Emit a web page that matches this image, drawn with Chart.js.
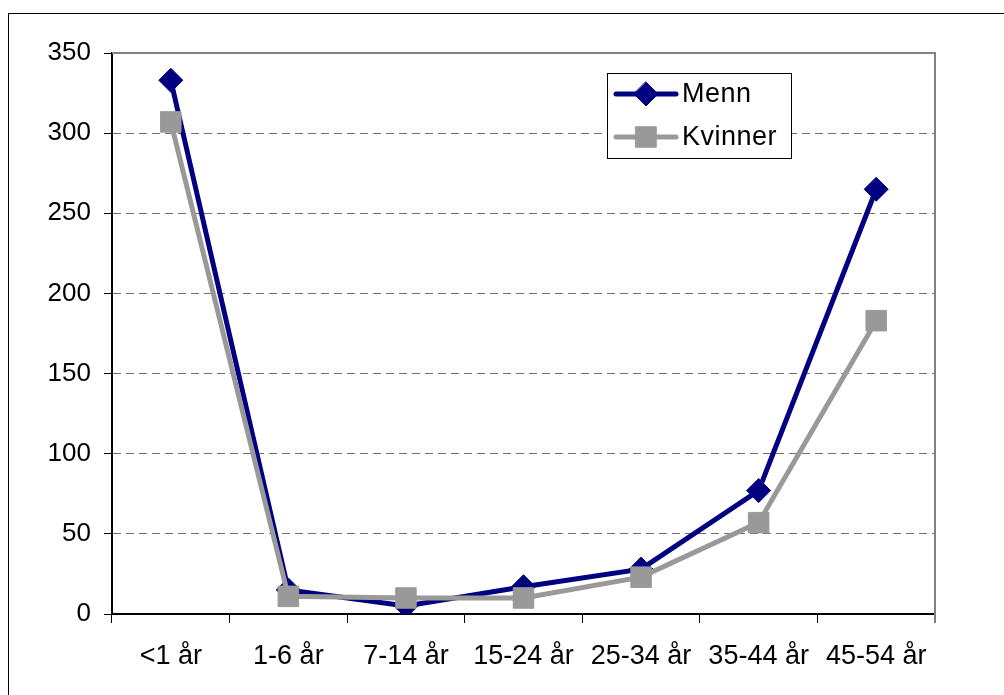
<!DOCTYPE html>
<html>
<head>
<meta charset="utf-8">
<script src="https://cdn.jsdelivr.net/npm/chart.js@4/dist/chart.umd.min.js"></script>
<style>
  html, body { margin: 0; padding: 0; background: #ffffff; }
  #wrap { position: relative; width: 1004px; height: 695px; }
</style>
</head>
<body>
<div id="wrap"><canvas id="chart" width="1004" height="695"></canvas></div>
<script>
// Age groups and values per sex
const categories = ['<1 år', '1-6 år', '7-14 år', '15-24 år', '25-34 år', '35-44 år', '45-54 år'];
const menn = [333, 15, 5, 17, 28, 77, 265];
const kvinner = [307, 11, 10, 10, 23, 57, 183];
const yTicks = [0, 50, 100, 150, 200, 250, 300, 350];
const legendOrder = ['Menn', 'Kvinner'];

const NAVY = '#000080';
const GREY = '#999999';
const FONT = 'Liberation Sans, Arial, sans-serif';

// Outer frame, plot-area border (grey top/right) and the legend box
const framePlugin = {
  id: 'frame',
  beforeDraw(chart) {
    const ctx = chart.ctx;
    ctx.save();
    ctx.fillStyle = '#ffffff';
    ctx.fillRect(0, 0, chart.width, chart.height);
    ctx.strokeStyle = '#000000';
    ctx.lineWidth = 1;
    ctx.strokeRect(8.5, 13.5, 1010, 700);
    ctx.restore();
  },
  afterDatasetsDraw(chart) {
    const ctx = chart.ctx;
    const a = chart.chartArea;
    ctx.save();
    ctx.strokeStyle = '#808080';
    ctx.lineWidth = 2;
    ctx.beginPath();
    ctx.moveTo(a.left, a.top);
    ctx.lineTo(a.right, a.top);
    ctx.lineTo(a.right, a.bottom + 9);
    ctx.stroke();

    // legend
    const bx = 607.5, by = 73.5, bw = 184, bh = 85;
    ctx.fillStyle = '#ffffff';
    ctx.fillRect(bx, by, bw, bh);
    ctx.strokeStyle = '#000000';
    ctx.lineWidth = 1;
    ctx.strokeRect(bx, by, bw, bh);
    legendOrder.forEach((name, i) => {
      const ds = chart.data.datasets.find(d => d.label === name);
      const y = 94 + i * 43;
      ctx.strokeStyle = ds.borderColor;
      ctx.lineWidth = 5;
      ctx.lineCap = 'round';
      ctx.beginPath();
      ctx.moveTo(616, y);
      ctx.lineTo(676, y);
      ctx.stroke();
      ctx.fillStyle = ds.pointBackgroundColor;
      ctx.strokeStyle = ds.pointBorderColor;
      ctx.lineWidth = 1;
      ctx.beginPath();
      if (ds.pointStyle === 'rectRot') {
        const r = ds.pointRadius;
        ctx.moveTo(646, y - r); ctx.lineTo(646 + r, y); ctx.lineTo(646, y + r); ctx.lineTo(646 - r, y);
      } else {
        const s = ds.pointRadius * Math.SQRT1_2;
        ctx.rect(646 - s, y - s, 2 * s, 2 * s);
      }
      ctx.closePath();
      ctx.fill();
      ctx.stroke();
      ctx.fillStyle = '#000000';
      ctx.font = '27px ' + FONT;
      ctx.textBaseline = 'middle';
      ctx.textAlign = 'left';
      ctx.letterSpacing = '0.5px';
      ctx.fillText(ds.label, 682, y + 1);
    });
    ctx.restore();
  }
};

new Chart(document.getElementById('chart'), {
  type: 'line',
  data: {
    labels: categories,
    datasets: [
      {
        label: 'Menn',
        data: menn,
        borderColor: NAVY,
        backgroundColor: NAVY,
        borderWidth: 5,
        pointStyle: 'rectRot',
        pointRadius: 12,
        pointBackgroundColor: NAVY,
        pointBorderColor: NAVY,
        pointBorderWidth: 1,
        tension: 0,
        order: 2
      },
      {
        label: 'Kvinner',
        data: kvinner,
        borderColor: GREY,
        backgroundColor: GREY,
        borderWidth: 5,
        pointStyle: 'rect',
        pointRadius: 14.5,
        pointBackgroundColor: GREY,
        pointBorderColor: GREY,
        pointBorderWidth: 1,
        tension: 0,
        order: 1
      }
    ]
  },
  options: {
    responsive: false,
    animation: false,
    devicePixelRatio: 1,
    layout: { padding: { left: 0, top: 53, right: 69, bottom: 0 } },
    plugins: {
      legend: { display: false },
      tooltip: { enabled: false }
    },
    scales: {
      x: {
        type: 'category',
        offset: true,
        afterFit(scale) { scale.height = 81; },
        grid: {
          offset: true,
          drawOnChartArea: false,
          drawTicks: true,
          tickLength: 9,
          color: '#000000',
          lineWidth: 1
        },
        border: { color: '#000000', width: 2 },
        ticks: {
          color: '#000000',
          font: { family: FONT, size: 27 },
          padding: 17,
          maxRotation: 0,
          autoSkip: false
        }
      },
      y: {
        min: 0,
        max: 350,
        afterFit(scale) { scale.width = 112; },
        afterBuildTicks(scale) { scale.ticks = yTicks.map(v => ({ value: v })); },
        grid: {
          drawTicks: true,
          tickLength: 8,
          color: ctx => (ctx.tick && (ctx.tick.value === 0 || ctx.tick.value === 350)) ? 'rgba(0,0,0,0)' : '#707070',
          tickColor: '#000000',
          lineWidth: 1
        },
        // dashed horizontal grid lines
        border: { color: '#000000', width: 2, dash: [8, 5] },
        ticks: {
          color: '#000000',
          font: { family: FONT, size: 26 },
          padding: 13
        }
      }
    }
  },
  plugins: [framePlugin]
});
</script>
</body>
</html>
